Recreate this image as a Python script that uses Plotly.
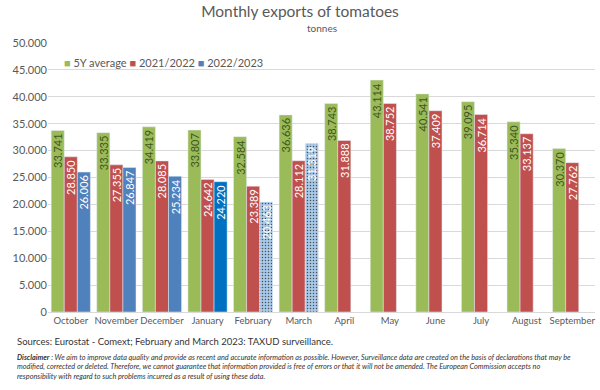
import plotly.graph_objects as go

months = ["October", "November", "December", "January", "February", "March",
          "April", "May", "June", "July", "August", "September"]
avg5y = [33741, 33335, 34419, 33807, 32584, 36636, 38743, 43114, 40541, 39095, 35340, 30370]
y2122 = [28850, 27355, 28085, 24642, 23389, 28112, 31888, 38752, 37409, 36714, 33137, 27762]
y2223 = [26006, 26847, 25234, 24220, 20463, 31319, None, None, None, None, None, None]
series_names = ["5Y average", "2021/2022", "2022/2023"]

yticks = [0, 5000, 10000, 15000, 20000, 25000, 30000, 35000, 40000, 45000, 50000]

FONT = "Lato"
GREEN = "#9BBB59"
RED = "#C0504D"
BLUE = "#4F81BD"
LIGHTBLUE = "#A7CAEA"

blue_colors = [BLUE, BLUE, BLUE, "#0070C0", LIGHTBLUE, LIGHTBLUE] + [BLUE] * 6
blue_pattern = ["", "", "", "", ".", "."] + [""] * 6

fig = go.Figure()
common = dict(textposition="inside", insidetextanchor="end", textangle=-90,
              texttemplate="%{y:,.0f}", constraintext="none", cliponaxis=False,
              showlegend=False)
fig.add_trace(go.Bar(name=series_names[0], x=months, y=avg5y, marker_color=GREEN,
                     textfont=dict(family=FONT, size=11, color="#3E5622"), **common))
fig.add_trace(go.Bar(name=series_names[1], x=months, y=y2122, marker_color=RED,
                     textfont=dict(family=FONT, size=11, color="white"), **common))
fig.add_trace(go.Bar(name=series_names[2], x=months, y=y2223,
                     marker=dict(color=blue_colors,
                                 pattern=dict(shape=blue_pattern, fillmode="overlay",
                                              fgcolor="white", fgopacity=0.9, size=3, solidity=0.2)),
                     textfont=dict(family=FONT, size=11, color="white"), **common))

disclaimer = ("<b><i>Disclaimer</i></b><i> : We aim to improve data quality and provide as recent and accurate information as possible. However, Surveillance data are created on the basis of declarations that may be<br>"
              "modified, corrected or deleted. Therefore, we cannot guarantee that information provided is free of errors or that it will not be amended. The European Commission accepts no<br>"
              "responsibility with regard to such problems incurred as a result of using these data.</i>")

legend_text = " ".join(
    f"<span style='color:{c}'>■</span> {n}" for c, n in zip([GREEN, RED, BLUE], series_names)
)

PT, PB, PL, PR = 43, 312, 48, 595
PH = PB - PT
PW = PR - PL

def py(pix):
    return (PB - pix) / PH

def px(pix):
    return (pix - PL) / PW

fig.update_layout(
    width=600, height=390,
    margin=dict(l=PL, r=600 - PR, t=PT, b=390 - PB, autoexpand=False),
    paper_bgcolor="white", plot_bgcolor="white",
    separators=",.",
    barmode="group", bargap=0.14, bargroupgap=0,
    font=dict(family=FONT, color="#595959", size=11),
    showlegend=False,
    title=dict(text="Monthly exports of tomatoes", x=0.5, xanchor="center", y=1 - 12 / 390,
               yanchor="middle", font=dict(size=15.5, color="#595959")),
    annotations=[
        dict(text=legend_text, x=px(62), y=py(62), xref="paper", yref="paper", showarrow=False,
             xanchor="left", yanchor="middle", font=dict(size=11, color="#595959")),
        dict(text="tonnes", x=0.5, y=py(28), xref="paper", yref="paper", showarrow=False,
             yanchor="middle", font=dict(size=10, color="#595959")),
        dict(text="Sources: Eurostat - Comext; February and March 2023: TAXUD surveillance.",
             xref="paper", yref="paper", x=px(15), y=py(341), xanchor="left", yanchor="middle",
             showarrow=False, font=dict(size=9.5, color="#333333")),
        dict(text=disclaimer, xref="paper", yref="paper", x=px(15), y=py(351), xanchor="left",
             yanchor="top", showarrow=False, align="left",
             font=dict(size=7.3, color="#333333")),
    ],
)

fig.update_yaxes(range=[0, 50000], tickvals=yticks, tickformat=",.0f", automargin=False,
                 showgrid=True, gridcolor="#D9D9D9", gridwidth=1, zeroline=False,
                 showline=False, ticks="", tickfont=dict(size=11, color="#595959"))
fig.update_xaxes(showline=True, linecolor="#D9D9D9", ticks="", showgrid=False, tickangle=0,
                 automargin=False, tickfont=dict(size=9.5, color="#595959"))

fig.write_html("out.html", config={"displayModeBar": False},
               post_script="document.body.style.margin='0';document.body.style.overflow='hidden';")
